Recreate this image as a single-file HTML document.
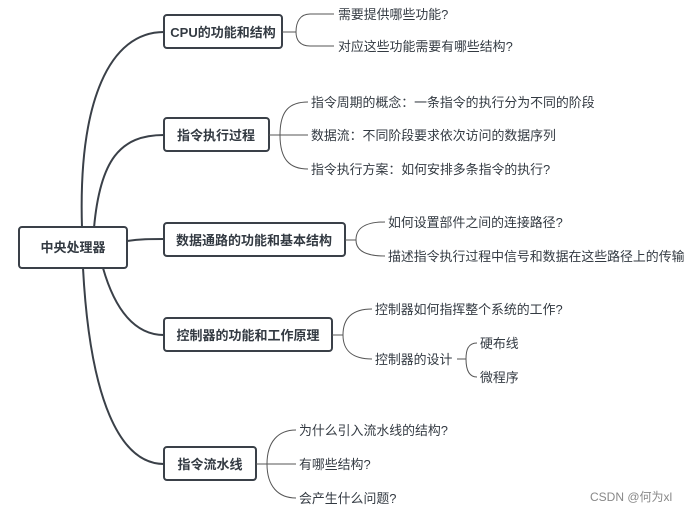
<!DOCTYPE html>
<html><head><meta charset="utf-8"><style>
html,body{margin:0;padding:0;background:#fff;}
svg{display:block;}
text{font-family:"Liberation Sans","Noto Sans CJK SC",sans-serif;fill:#333a42;}
.n{font-size:13px;font-weight:bold;}
.l{font-size:12.9px;}
</style></head><body>
<svg width="695" height="512" viewBox="0 0 695 512">
<g fill="none" stroke="#3a4048" stroke-width="2">
<path d="M82 228 C 78 100, 110 32, 164 32"/>
<path d="M94 228 C 100 160, 120 135, 164 135"/>
<path d="M127 241 C 140 239, 150 239, 164 239"/>
<path d="M103 268 C 115 310, 135 335, 164 335"/>
<path d="M83 268 C 90 400, 120 464, 164 464"/>
</g>
<g fill="#fff" stroke="#3a4048" stroke-width="2">
<rect x="19" y="227" width="108" height="41" rx="3"/>
<rect x="164" y="15" width="118" height="33" rx="3"/>
<rect x="164" y="118" width="105" height="33" rx="3"/>
<rect x="164" y="223" width="181" height="33" rx="3"/>
<rect x="164" y="318" width="168" height="33" rx="3"/>
<rect x="164" y="447" width="92" height="33" rx="3"/>
</g>
<g fill="none" stroke="#555" stroke-width="1">
<path d="M282 32 H296 M296 32 C 296 22, 300 14, 310 14 H334 M296 32 C 296 40, 300 46, 310 46 H334"/>
<path d="M269 135 H280 M280 135 C 280 110, 290 102, 308 102 M280 135 H308 M280 135 C 280 160, 290 169, 308 169"/>
<path d="M345 240 H356 M356 240 C 356 228, 365 222, 385 222 M356 240 C 356 250, 365 256, 385 256"/>
<path d="M332 335 H343 M343 335 C 343 318, 352 309, 372 309 M343 335 C 343 350, 352 359, 372 359"/>
<path d="M457 359 H466 M466 359 C 466 350, 468 343, 477 343 M466 359 C 466 368, 468 377, 477 377"/>
<path d="M256 464 H267 M267 464 C 267 442, 278 430, 296 430 M267 464 H296 M267 464 C 267 486, 278 498, 296 498"/>
</g>
<text class="n" x="73" y="252" text-anchor="middle">中央处理器</text>
<text class="n" x="223" y="37" text-anchor="middle">CPU的功能和结构</text>
<text class="n" x="216" y="140" text-anchor="middle">指令执行过程</text>
<text class="n" x="254" y="245" text-anchor="middle">数据通路的功能和基本结构</text>
<text class="n" x="248" y="340" text-anchor="middle">控制器的功能和工作原理</text>
<text class="n" x="210" y="469" text-anchor="middle">指令流水线</text>
<text class="l" x="338" y="19">需要提供哪些功能?</text>
<text class="l" x="338" y="51">对应这些功能需要有哪些结构?</text>
<text class="l" x="311" y="107">指令周期的概念：一条指令的执行分为不同的阶段</text>
<text class="l" x="311" y="140">数据流：不同阶段要求依次访问的数据序列</text>
<text class="l" x="311" y="174">指令执行方案：如何安排多条指令的执行?</text>
<text class="l" x="388" y="227">如何设置部件之间的连接路径?</text>
<text class="l" x="388" y="261">描述指令执行过程中信号和数据在这些路径上的传输</text>
<text class="l" x="375" y="314">控制器如何指挥整个系统的工作?</text>
<text class="l" x="375" y="364">控制器的设计</text>
<text class="l" x="480" y="348">硬布线</text>
<text class="l" x="480" y="382">微程序</text>
<text class="l" x="299" y="435">为什么引入流水线的结构?</text>
<text class="l" x="299" y="469">有哪些结构?</text>
<text class="l" x="299" y="503">会产生什么问题?</text>
<text x="590" y="501" style="font-size:12px;fill:#888">CSDN @何为xl</text>
</svg>
</body></html>
